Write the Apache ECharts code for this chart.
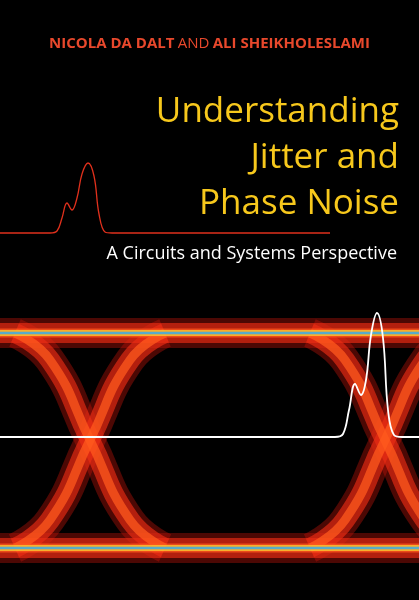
<!DOCTYPE html>
<html><head><meta charset="utf-8">
<script src="https://cdn.jsdelivr.net/npm/echarts@6/dist/echarts.min.js"></script>
<style>html,body{margin:0;background:#000}#c{width:419px;height:600px}</style>
</head><body><div id="c"></div>
<script>
// eye diagram traces, [x, y] in cover units (y down)
var topBand = [[0, 333], [419, 333]];
var bottomBand = [[0, 548], [419, 548]];
var fallLeft = [[15, 333], [50, 360], [90, 440], [130, 520], [165, 548]];
var riseLeft = [[15, 548], [50, 520], [90, 440], [130, 360], [165, 333]];
var fallRight = [[310, 333], [345, 360], [385, 440], [425, 520], [460, 548]];
var riseRight = [[310, 548], [345, 520], [385, 440], [425, 360], [460, 333]];
// pulses
var redPulse = [[0, 233], [50, 233], [57, 231], [62, 218], [67, 203], [72, 210], [77, 198], [82, 174], [88, 163], [94, 176], [99, 214], [105, 232], [112, 233], [330, 233]];
var whitePulse = [[0, 437], [335, 437], [343, 434], [349, 410], [355, 384], [361, 395], [366, 380], [371, 335], [377, 313], [383, 338], [388, 410], [394, 435], [402, 437], [419, 437]];

var eye = [topBand, bottomBand, fallLeft, riseLeft, fallRight, riseRight];
var layers = [
  {w: 30, c: 'rgba(190,20,10,0.4)'},
  {w: 20, c: 'rgba(235,45,20,0.65)'},
  {w: 9, c: 'rgba(255,90,30,0.75)'}
];
var series = [];
layers.forEach(function (l) {
  eye.forEach(function (d) {
    series.push({type: 'line', data: d, smooth: true, symbol: 'none', silent: true,
      lineStyle: {width: l.w, color: l.c}});
  });
});
[topBand, bottomBand].forEach(function (d) {
  series.push({type: 'line', data: d, symbol: 'none', silent: true, lineStyle: {width: 6, color: 'rgba(250,200,50,0.8)'}});
  series.push({type: 'line', data: d, symbol: 'none', silent: true, lineStyle: {width: 2.5, color: 'rgba(60,170,230,0.85)'}});
});
series.push({type: 'line', data: redPulse, smooth: 0.4, symbol: 'none', lineStyle: {width: 1.3, color: '#e0301c'}});
series.push({type: 'line', data: whitePulse, smooth: 0.4, symbol: 'none', lineStyle: {width: 1.8, color: '#ffffff'}});

var titleLines = ['Understanding', 'Jitter and', 'Phase Noise'];
var graphic = [
  {type: 'text', left: 'center', top: 36, style: {
    rich: {b: {fill: '#e8482c', font: 'bold 15px "Open Sans"'}, n: {fill: '#e8482c', font: '15px "Open Sans"'}},
    text: '{b|NICOLA DA DALT} {n|AND} {b|ALI SHEIKHOLESLAMI}'}},
  {type: 'text', right: 22, top: 245, style: {text: 'A Circuits and Systems Perspective', fill: '#fff', font: '18px "Open Sans"'}}
];
titleLines.forEach(function (t, i) {
  graphic.push({type: 'text', right: 20, top: 95 + i * 46, style: {text: t, fill: '#f7c81c', font: '35px "Open Sans"'}});
});

var chart = echarts.init(document.getElementById('c'));
chart.setOption({
  backgroundColor: '#000',
  animation: false,
  grid: {left: 0, right: 0, top: 0, bottom: 0},
  xAxis: {type: 'value', min: 0, max: 419, show: false},
  yAxis: {type: 'value', min: 0, max: 600, inverse: true, show: false},
  series: series,
  graphic: graphic
});
</script></body></html>
